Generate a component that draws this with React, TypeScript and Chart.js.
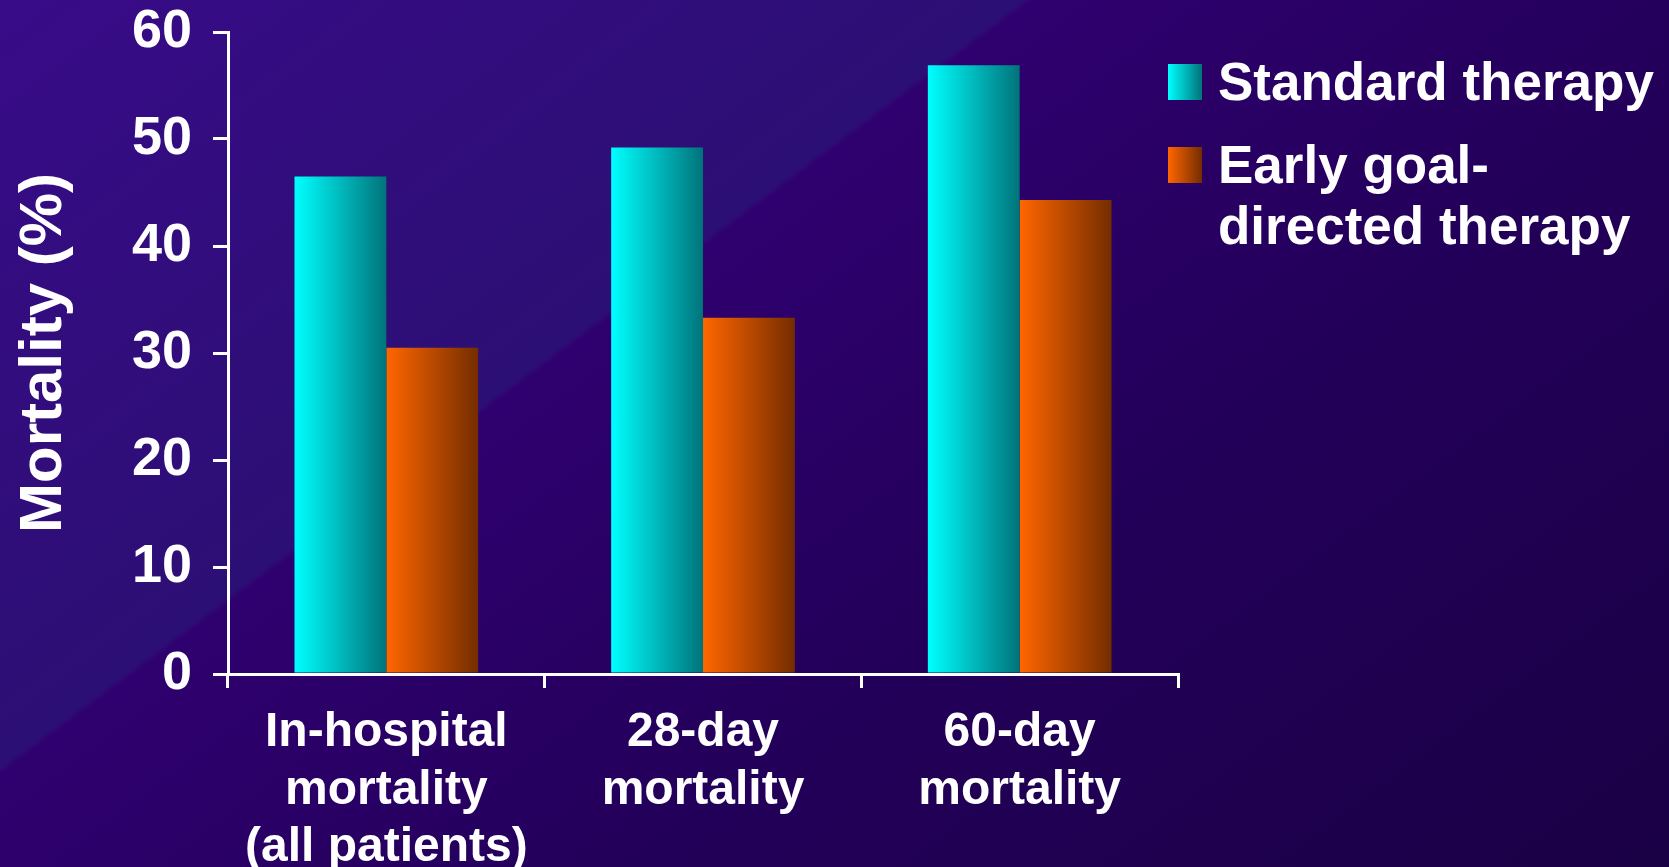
import React, { useEffect, useRef } from "react";
import { Chart, registerables } from "chart.js";

Chart.register(...registerables);

const categories: string[][] = [
  ["In-hospital", "mortality", "(all patients)"],
  ["28-day", "mortality"],
  ["60-day", "mortality"],
];
const standardTherapy = [46.5, 49.2, 56.9];
const earlyGoalDirected = [30.5, 33.3, 44.3];
const seriesNames = ["Standard therapy", "Early goal-directed therapy"];
const legendLines = [["Standard therapy"], ["Early goal-", "directed therapy"]];
const yMin = 0;
const yMax = 60;
const yStep = 10;
const yTitle = "Mortality (%)";

const FONT = "'Liberation Sans', Arial, Helvetica, sans-serif";
const W = 1669;
const H = 867;

const barColors = [
  ["#00ffff", "#00737a"],
  ["#ff6600", "#742d00"],
];

const backgroundPlugin = {
  id: "bgGradient",
  beforeDraw(chart: any) {
    const { ctx, width, height } = chart;
    ctx.save();
    const g = ctx.createLinearGradient(0, 0, 1017, 1356);
    g.addColorStop(0, "#380b88");
    g.addColorStop(0.362, "#2c0f74");
    g.addColorStop(0.366, "#2f006f");
    g.addColorStop(0.62, "#23005a");
    g.addColorStop(1, "#1a0045");
    ctx.fillStyle = g;
    ctx.fillRect(0, 0, width, height);
    ctx.restore();
  },
};

const barGradientPlugin = {
  id: "barGradient",
  beforeDatasetsDraw(chart: any) {
    const { ctx } = chart;
    chart.data.datasets.forEach((_: any, di: number) => {
      const meta = chart.getDatasetMeta(di);
      meta.data.forEach((el: any) => {
        const { x, width } = el.getProps(["x", "width"], true);
        const left = x - width / 2;
        const g = ctx.createLinearGradient(left, 0, left + width, 0);
        g.addColorStop(0, barColors[di][0]);
        g.addColorStop(1, barColors[di][1]);
        el.options = Object.assign({}, el.options, { backgroundColor: g });
      });
    });
  },
};

const legendPlugin = {
  id: "customLegend",
  afterDraw(chart: any) {
    const { ctx } = chart;
    ctx.save();
    ctx.font = `bold 53px ${FONT}`;
    ctx.fillStyle = "#ffffff";
    ctx.textBaseline = "alphabetic";
    ctx.textAlign = "left";
    const baselines = [100, 183];
    legendLines.forEach((lines, i) => {
      const by = baselines[i];
      const g = ctx.createLinearGradient(1168, 0, 1202, 0);
      g.addColorStop(0, barColors[i][0]);
      g.addColorStop(1, barColors[i][1]);
      ctx.fillStyle = g;
      ctx.fillRect(1168, by - 36, 34, 36);
      ctx.fillStyle = "#ffffff";
      lines.forEach((t, j) => {
        ctx.fillText(t, 1218, by + j * 61);
      });
    });
    ctx.restore();
  },
};

export default function App() {
  const ref = useRef<HTMLCanvasElement | null>(null);
  useEffect(() => {
    if (!ref.current) return;
    Chart.defaults.font.family = FONT;
    const chart = new Chart(ref.current, {
      type: "bar",
      data: {
        labels: categories,
        datasets: [
          {
            label: seriesNames[0],
            data: standardTherapy,
            backgroundColor: barColors[0][0],
            borderWidth: 0,
            categoryPercentage: 0.58,
            barPercentage: 1.0,
          },
          {
            label: seriesNames[1],
            data: earlyGoalDirected,
            backgroundColor: barColors[1][0],
            borderWidth: 0,
            categoryPercentage: 0.58,
            barPercentage: 1.0,
          },
        ],
      },
      options: {
        responsive: false,
        animation: false,
        events: [],
        layout: { padding: { top: 32, right: 491, left: 0, bottom: 0 } },
        plugins: {
          legend: { display: false },
          tooltip: { enabled: false },
        },
        scales: {
          x: {
            offset: true,
            grid: {
              display: true,
              offset: true,
              drawOnChartArea: false,
              drawTicks: true,
              tickLength: 14,
              color: "#ffffff",
              lineWidth: 3,
            },
            border: { display: true, color: "#ffffff", width: 3 },
            ticks: {
              color: "#ffffff",
              font: { family: FONT, size: 48, weight: "bold", lineHeight: 1.2 },
              padding: 16,
              maxRotation: 0,
              autoSkip: false,
            },
            afterFit: (s: any) => {
              s.height = 193;
              s.paddingLeft = 0;
              s.paddingRight = 0;
              s.paddingTop = 0;
              s.paddingBottom = 0;
            },
          },
          y: {
            min: yMin,
            max: yMax,
            grid: {
              drawOnChartArea: false,
              drawTicks: true,
              tickLength: 15,
              color: "#ffffff",
              lineWidth: 3,
            },
            border: { display: true, color: "#ffffff", width: 3 },
            ticks: {
              stepSize: yStep,
              color: "#ffffff",
              font: { family: FONT, size: 54, weight: "bold" },
              padding: 21,
            },
            title: {
              display: true,
              text: yTitle,
              color: "#ffffff",
              font: { family: FONT, size: 60, weight: "bold", lineHeight: 1 },
              padding: { top: 14, bottom: 0 },
            },
            afterFit: (s: any) => {
              s.width = 228;
              s.paddingLeft = 0;
              s.paddingRight = 0;
              s.paddingTop = 0;
              s.paddingBottom = 0;
            },
          },
        },
      } as any,
      plugins: [backgroundPlugin, barGradientPlugin, legendPlugin],
    });
    return () => chart.destroy();
  }, []);
  return (
    <div style={{ position: "fixed", left: 0, top: 0, width: W, height: H, overflow: "hidden" }}>
      <canvas ref={ref} width={W} height={H} style={{ display: "block", width: W, height: H }} />
    </div>
  );
}
